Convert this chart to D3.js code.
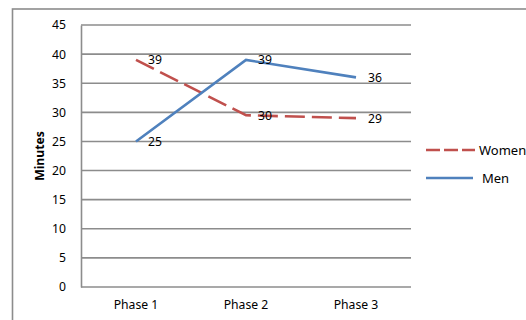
<!DOCTYPE html>
<html>
<head>
<meta charset="utf-8">
<script src="https://cdn.jsdelivr.net/npm/d3@7"></script>
<style>
  html, body { margin: 0; padding: 0; background: #fff; }
  svg { display: block; font-family: "Noto Sans", "Open Sans", sans-serif; }
</style>
</head>
<body>
<svg id="chart" width="526" height="320"></svg>
<script>
// Average minutes per phase, by group
const phases = ["Phase 1", "Phase 2", "Phase 3"];
const women = [39, 29.5, 29];
const men = [25, 39, 36];
const yTicks = [0, 5, 10, 15, 20, 25, 30, 35, 40, 45];
const seriesNames = ["Women", "Men"];
const seriesColors = ["#C0504D", "#4F81BD"];

const svg = d3.select("#chart");
const margin = { left: 81, right: 411, top: 25, bottom: 287 };
const fontSize = 12.2;

// Outer chart frame (continues past the visible edge)
svg.append("rect")
  .attr("x", 12.5).attr("y", 9)
  .attr("width", 700).attr("height", 500)
  .attr("fill", "none")
  .attr("stroke", "#8c8c8c")
  .attr("stroke-width", 1.6);

const x = d3.scaleBand().domain(phases).range([margin.left, margin.right]);
const y = d3.scaleLinear().domain([0, 45]).range([margin.bottom, margin.top]);

// Horizontal gridlines
svg.append("g").selectAll("line")
  .data(yTicks)
  .join("line")
  .attr("x1", margin.left).attr("x2", margin.right)
  .attr("y1", d => y(d)).attr("y2", d => y(d))
  .attr("stroke", "#8c8c8c")
  .attr("stroke-width", 1.6);

// Y axis
const yAxis = svg.append("g")
  .attr("transform", `translate(${margin.left},0)`)
  .call(d3.axisLeft(y).tickValues(yTicks).tickSize(0).tickPadding(15));
yAxis.select(".domain").attr("stroke", "#8c8c8c").attr("stroke-width", 1.6);
yAxis.selectAll("text").attr("font-size", fontSize).attr("fill", "#000")
  .attr("font-family", "Noto Sans, sans-serif");

// X axis labels
const xAxis = svg.append("g")
  .attr("transform", `translate(0,${margin.bottom})`)
  .call(d3.axisBottom(x).tickSize(0).tickPadding(13));
xAxis.select(".domain").remove();
xAxis.selectAll("text").attr("font-size", fontSize).attr("fill", "#000")
  .attr("font-family", "Noto Sans, sans-serif");

// Y axis title
svg.append("text")
  .attr("transform", `translate(44,${(margin.top + margin.bottom) / 2}) rotate(-90)`)
  .attr("text-anchor", "middle")
  .attr("font-size", fontSize)
  .attr("font-weight", "bold")
  .text("Minutes");

const line = d3.line()
  .x((d, i) => x(phases[i]) + x.bandwidth() / 2)
  .y(d => y(d));

const series = [
  { name: seriesNames[0], values: women, color: seriesColors[0], dash: "20,7" },
  { name: seriesNames[1], values: men, color: seriesColors[1], dash: null }
];

series.forEach(s => {
  svg.append("path")
    .datum(s.values)
    .attr("d", line)
    .attr("fill", "none")
    .attr("stroke", s.color)
    .attr("stroke-width", 2.6)
    .attr("stroke-dasharray", s.dash);
});

// Value labels beside each point
const fmt = d3.format(".0f");
series.forEach(s => {
  svg.append("g").selectAll("text")
    .data(s.values)
    .join("text")
    .attr("x", (d, i) => x(phases[i]) + x.bandwidth() / 2 + 12)
    .attr("y", d => y(d) + 4.5)
    .attr("font-size", fontSize)
    .attr("fill", "#000")
    .text(d => fmt(d));
});

// Legend
const legend = svg.append("g");
const legendRows = [
  { y: 150, x1: 426, x2: 475, tx: 479, dash: "14,4" },
  { y: 178, x1: 426, x2: 473, tx: 482, dash: null }
];
series.forEach((s, i) => {
  const r = legendRows[i];
  legend.append("line")
    .attr("x1", r.x1).attr("x2", r.x2)
    .attr("y1", r.y).attr("y2", r.y)
    .attr("stroke", s.color)
    .attr("stroke-width", 2.6)
    .attr("stroke-dasharray", r.dash);
  legend.append("text")
    .attr("x", r.tx).attr("y", r.y + 4.5)
    .attr("font-size", 13)
    .attr("fill", "#000")
    .text(s.name);
});
</script>
</body>
</html>
